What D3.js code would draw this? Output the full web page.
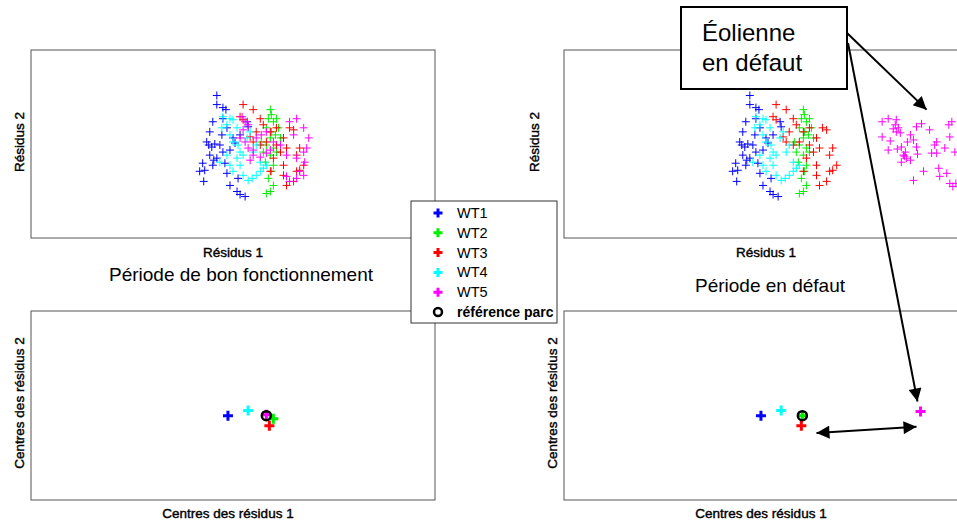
<!DOCTYPE html>
<html lang="fr">
<head>
<meta charset="utf-8">
<script src="https://d3js.org/d3.v7.min.js"></script>
<style>
  body { margin: 0; background: #fff; }
  svg text { font-family: "Liberation Sans", Arial, sans-serif; fill: #000; }
</style>
</head>
<body>
<script>
// series
const seriesNames = ["WT1", "WT2", "WT3", "WT4", "WT5"];
const seriesColors = ["#0000ff", "#00ee00", "#ff0000", "#00ffff", "#ff00ff"];
const refLabel = "référence parc";

// residuals, healthy period (WT1..WT4 the same in both periods)
const wt1Res = [[-1.6,4.8],[-1.6,3.9],[-1.0,3.6],[-0.7,3.4],[-2.0,2.2],[-1.0,2.5],[-2.3,1.2],[-2.4,-0.1],[-2.1,-0.3],[-1.8,0.0],
  [-2.3,-1.1],[-2.0,-2.1],[-2.8,-2.6],[-3.3,-2.7],[-2.9,-3.7],[-0.6,-2.9],[-0.3,-4.1],[0.4,-4.7],[0.7,-5.0],[1.2,-5.2],
  [-1.1,0.9],[-1.3,-0.1],[-1.0,-0.8],[0.0,0.6],[0.2,0.1],[-0.3,-0.6],[0.5,-3.4],[-1.6,-1.4],[-0.6,1.6],[0.7,0.9],
  [1.4,2.2],[1.5,1.7],[-2.6,0.2],[-1.9,-1.6],[-3.0,-1.9],[-0.8,-1.9]];
const wt2Res = [[3.7,3.4],[3.8,2.9],[3.5,2.5],[4.0,2.2],[4.3,2.5],[3.3,1.6],[3.8,1.2],[4.2,0.9],[3.7,0.6],[3.3,-0.1],
  [3.0,-0.8],[3.7,-1.1],[3.2,-1.8],[4.0,-2.1],[3.8,-2.7],[3.5,-3.4],[4.0,-4.1],[3.7,-4.7],[3.3,-4.9],[4.3,-0.8],
  [4.7,0.6],[4.0,-0.4],[2.8,0.2],[4.5,1.6]];
const wt3Res = [[1.0,3.9],[2.0,3.4],[2.7,2.5],[0.7,2.7],[1.0,2.4],[2.3,1.2],[1.7,0.7],[3.7,1.2],[4.3,1.6],[5.0,0.6],
  [5.6,1.6],[6.0,1.4],[5.3,-0.4],[4.7,-0.8],[4.0,-1.4],[5.0,-2.1],[6.3,-2.7],[6.6,-2.6],[6.0,-3.7],[5.3,-4.1],
  [5.0,-3.1],[3.7,-2.7],[6.3,-1.1],[6.6,-0.4],[2.0,0.2],[2.7,-0.1],[3.3,0.2],[4.3,-0.1],[3.0,1.9],[7.0,-2.1]];
const wt4Res = [[-1.0,2.7],[-0.3,2.5],[0.0,2.4],[-0.6,1.9],[-1.1,1.6],[0.4,1.6],[-0.3,0.9],[0.0,0.2],[0.5,-0.1],[0.7,-0.8],
  [1.0,-1.1],[0.4,-1.4],[-0.3,-2.1],[0.0,-2.7],[1.0,-3.1],[1.5,-3.6],[1.9,-3.4],[2.3,-3.1],[2.7,-2.7],[3.0,-2.4],
  [3.3,-2.1],[1.4,0.6],[1.7,1.2],[2.0,-0.8],[2.3,-0.1],[2.7,-1.8],[-0.6,-1.1],[-1.3,-1.8],[0.7,-2.1]];
const wt5ResHealthy = [[0.9,2.7],[1.2,2.2],[1.5,1.9],[1.0,1.4],[0.7,0.6],[1.2,0.2],[1.5,-0.4],[2.0,-0.6],[2.3,0.6],[2.8,0.9],
  [3.3,1.2],[4.0,0.2],[4.7,-0.1],[5.6,2.2],[6.3,2.5],[7.0,1.6],[6.0,0.9],[5.3,-1.1],[6.3,-1.4],[7.0,-0.8],
  [7.5,0.6],[7.3,-0.4],[7.1,-1.8],[6.6,-2.7],[6.3,-3.4],[5.6,-3.7],[5.3,-3.2],[7.0,-3.1],[2.0,-1.1],[1.7,-1.6],
  [2.7,-1.3],[3.3,-0.9],[3.7,-0.6]];
// residuals of WT5, faulty period
const wt5ResFault = [[11.5,2.2],[12.1,2.5],[12.9,2.4],[12.8,1.9],[13.1,1.6],[12.9,1.2],[13.3,1.1],[11.5,0.7],[12.1,-0.6],[14.3,0.9],
  [14.6,0.4],[14.9,1.7],[15.4,2.0],[16.2,1.4],[14.9,-0.3],[13.4,-0.3],[13.8,-0.8],[13.6,-1.1],[13.9,-1.4],[14.3,-1.6],
  [13.4,-1.8],[16.9,0.2],[16.7,-0.1],[16.4,-0.9],[16.9,-0.9],[17.7,-0.4],[18.2,0.7],[18.4,2.2],[18.1,1.9],[18.7,-0.8],
  [15.6,-2.7],[14.6,-3.6],[17.1,-2.4],[17.2,-3.2],[17.9,-2.9],[18.2,-3.9],[18.5,-4.2],[18.8,-3.9],[12.3,0.3],[13.0,-0.5],
  [14.0,0.2],[15.0,-1.0],[13.7,-1.2],[12.6,1.5]];

// centres (WT1..WT5) and park reference
const centresHealthy = [[-0.5,-1.0],[4.0,-1.3],[3.6,-2.0],[1.5,-0.5],[3.3,-0.9]];
const refHealthy = [3.3,-1.0];
const centresFault = [[-0.5,-1.0],[3.6,-1.0],[3.5,-2.0],[1.5,-0.5],[15.3,-0.6]];
const refFault = [3.6,-1.0];

// labels
const xLabelTop = "Résidus 1", yLabelTop = "Résidus 2";
const xLabelBottom = "Centres des résidus 1", yLabelBottom = "Centres des résidus 2";
const titles = ["Période de bon fonctionnement", "Période en défaut"];
const noteLines = ["Éolienne", "en défaut"];

const W = 957, H = 522;
const svg = d3.select("body").append("svg").attr("width", W).attr("height", H);

const defs = svg.append("defs");
defs.append("marker").attr("id", "head").attr("viewBox", "0 0 10 10")
  .attr("refX", 10).attr("refY", 5).attr("markerUnits", "userSpaceOnUse")
  .attr("markerWidth", 17).attr("markerHeight", 13).attr("orient", "auto-start-reverse")
  .append("path").attr("d", "M0,0L10,5L0,10Z").attr("fill", "#000");

function plusPath(s) { return `M${-s},0H${s}M0,${-s}V${s}`; }

function makePanel(x0, y0, w, h) {
  const g = svg.append("g").attr("transform", `translate(${x0},${y0})`);
  g.append("rect").attr("width", w).attr("height", h)
    .attr("fill", "#fff").attr("stroke", "#555").attr("stroke-width", 1);
  const x = d3.scaleLinear().domain([-20, 20]).range([0, w]);
  const y = d3.scaleLinear().domain([-9.3, 9.3]).range([h, 0]);
  return { g, x, y, x0, y0, w, h };
}

function drawResiduals(p, sets) {
  sets.forEach((pts, i) => {
    p.g.append("g").selectAll("path").data(pts).join("path")
      .attr("transform", d => `translate(${p.x(d[0])},${p.y(d[1])})`)
      .attr("d", plusPath(4))
      .attr("stroke", seriesColors[i]).attr("stroke-width", 1).attr("fill", "none");
  });
}

function drawCentres(p, centres, ref) {
  p.g.append("g").selectAll("path").data(centres).join("path")
    .attr("transform", d => `translate(${p.x(d[0])},${p.y(d[1])})`)
    .attr("d", plusPath(5))
    .attr("stroke", (d, i) => seriesColors[i]).attr("stroke-width", 3).attr("fill", "none");
  p.g.append("circle").attr("cx", p.x(ref[0])).attr("cy", p.y(ref[1])).attr("r", 4.5)
    .attr("fill", "none").attr("stroke", "#000").attr("stroke-width", 2.5);
}

const tl = makePanel(31, 50, 404, 188);
const tr = makePanel(564, 50, 404, 188);
const bl = makePanel(31, 311, 404, 189);
const br = makePanel(564, 311, 404, 189);

drawResiduals(tl, [wt1Res, wt2Res, wt3Res, wt4Res, wt5ResHealthy]);
drawResiduals(tr, [wt1Res, wt2Res, wt3Res, wt4Res, wt5ResFault]);
drawCentres(bl, centresHealthy, refHealthy);
drawCentres(br, centresFault, refFault);

// axis labels (medium weight look)
function hLabel(x, y, t, size, axis) {
  const el = svg.append("text").attr("x", x).attr("y", y).attr("text-anchor", "middle")
    .style("font-size", size + "px").text(t);
  if (axis) el.attr("stroke", "#000").attr("stroke-width", 0.4);
}
function vLabel(x, y, t) {
  svg.append("text").attr("transform", `translate(${x},${y}) rotate(-90)`)
    .attr("text-anchor", "middle").style("font-size", "13.5px")
    .attr("stroke", "#000").attr("stroke-width", 0.4).text(t);
}
hLabel(233, 257, xLabelTop, 13.5, true);
hLabel(766, 257, xLabelTop, 13.5, true);
hLabel(228, 518, xLabelBottom, 13.5, true);
hLabel(761, 518, xLabelBottom, 13.5, true);
vLabel(24, 142, yLabelTop);
vLabel(539, 142, yLabelTop);
vLabel(24, 403, yLabelBottom);
vLabel(557, 403, yLabelBottom);
hLabel(241, 281, titles[0], 19, false);
hLabel(770, 292, titles[1], 19, false);

// legend
const leg = svg.append("g").attr("transform", "translate(411,201)");
leg.append("rect").attr("width", 146).attr("height", 122)
  .attr("fill", "#fff").attr("stroke", "#333").attr("stroke-width", 1);
const rowY = d3.scalePoint().domain(d3.range(6)).range([12, 111]);
seriesNames.forEach((n, i) => {
  leg.append("path").attr("transform", `translate(27,${rowY(i)})`).attr("d", plusPath(4.5))
    .attr("stroke", seriesColors[i]).attr("stroke-width", 3);
  leg.append("text").attr("x", 46).attr("y", rowY(i) + 5).style("font-size", "14.5px").text(n);
});
leg.append("circle").attr("cx", 27).attr("cy", rowY(5)).attr("r", 4)
  .attr("fill", "none").attr("stroke", "#000").attr("stroke-width", 2.5);
leg.append("text").attr("x", 46).attr("y", rowY(5) + 5)
  .style("font-size", "14px").style("font-weight", "bold").text(refLabel);

// annotation
function arrow(x1, y1, x2, y2, both) {
  const l = svg.append("line").attr("x1", x1).attr("y1", y1).attr("x2", x2).attr("y2", y2)
    .attr("stroke", "#000").attr("stroke-width", 2).attr("marker-end", "url(#head)");
  if (both) l.attr("marker-start", "url(#head)");
}
arrow(847, 33, tr.x0 + tr.x(15.9), tr.y0 + tr.y(3.4));
arrow(848, 43, br.x0 + br.x(15.0), br.y0 + br.y(0.4));
arrow(br.x0 + br.x(5.0), br.y0 + br.y(-2.7), br.x0 + br.x(14.9), br.y0 + br.y(-2.1), true);

const note = svg.append("g").attr("transform", "translate(681,7)");
note.append("rect").attr("width", 166).attr("height", 82)
  .attr("fill", "#fff").attr("stroke", "#000").attr("stroke-width", 2);
noteLines.forEach((t, i) => {
  note.append("text").attr("x", 21).attr("y", 34 + i * 30).style("font-size", "24px").text(t);
});
</script>
</body>
</html>
